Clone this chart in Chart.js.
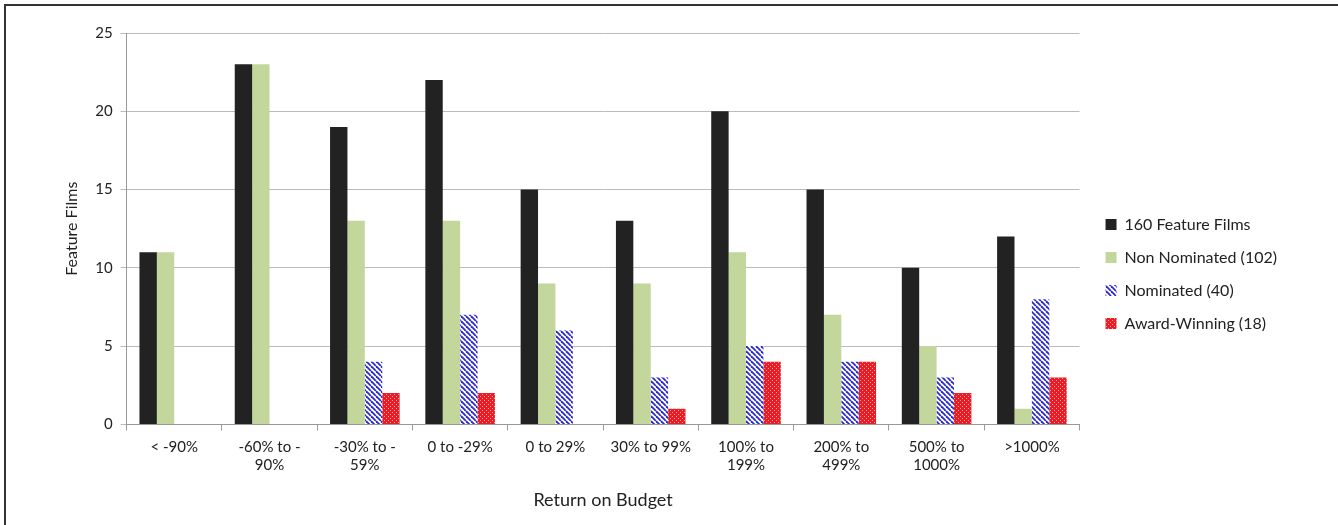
<!DOCTYPE html>
<html>
<head>
<meta charset="utf-8">
<script src="https://cdn.jsdelivr.net/npm/chart.js@4.4.0/dist/chart.umd.min.js"></script>
<style>
  html, body { margin: 0; padding: 0; background: #fff; }
  #wrap {
    position: absolute; left: 4px; top: 4px; width: 1334px; height: 521px;
    border-left: 2px solid #333; border-top: 2px solid #333;
  }
</style>
</head>
<body>
<div id="wrap"><canvas id="chart" width="1332" height="519"></canvas></div>
<script>
// kategori return on budget
const categories = [
  "< -90%", ["-60% to -", "90%"], ["-30% to -", "59%"], "0 to -29%", "0 to 29%",
  "30% to 99%", ["100% to", "199%"], ["200% to", "499%"], ["500% to", "1000%"], ">1000%"
];
const allFilms = [11, 23, 19, 22, 15, 13, 20, 15, 10, 12];
const nonNominated = [11, 23, 13, 13, 9, 9, 11, 7, 5, 1];
const nominated = [0, 0, 4, 7, 6, 3, 5, 4, 3, 8];
const awardWinning = [0, 0, 2, 2, 0, 1, 4, 4, 2, 3];
const seriesNames = ["160 Feature Films", "Non Nominated (102)", "Nominated (40)", "Award-Winning (18)"];

const ctx = document.getElementById("chart").getContext("2d");

// pola garis miring biru
function hatchPattern() {
  const c = document.createElement("canvas");
  c.width = 5; c.height = 5;
  const g = c.getContext("2d");
  g.fillStyle = "#fff";
  g.fillRect(0, 0, 5, 5);
  g.strokeStyle = "#2b2bd0";
  g.lineWidth = 1.8;
  for (let k = -5; k <= 10; k += 5) {
    g.beginPath();
    g.moveTo(k, 0);
    g.lineTo(k + 5, 5);
    g.stroke();
  }
  return ctx.createPattern(c, "repeat");
}

// pola kotak merah
function checkPattern() {
  const c = document.createElement("canvas");
  c.width = 4; c.height = 4;
  const g = c.getContext("2d");
  g.fillStyle = "#ec1c24";
  g.fillRect(0, 0, 4, 4);
  g.fillStyle = "#f7a0a0";
  g.fillRect(0, 0, 1, 1);
  g.fillRect(2, 2, 1, 1);
  return ctx.createPattern(c, "repeat");
}

// lebarkan kotak legenda supaya area plot lebih sempit
const legendGap = {
  id: "legendGap",
  beforeInit(chart) {
    const fit = chart.legend.fit;
    chart.legend.fit = function () {
      fit.call(this);
      this.width += 12;
    };
  },
  afterLayout(chart) {
    chart.legend.left += 9;
  },
};

const font = "Lato, 'Open Sans', sans-serif";

new Chart(ctx, {
  type: "bar",
  data: {
    labels: categories,
    datasets: [
      { label: seriesNames[0], data: allFilms, backgroundColor: "#222222" },
      { label: seriesNames[1], data: nonNominated, backgroundColor: "#c3d69b" },
      { label: seriesNames[2], data: nominated, backgroundColor: hatchPattern() },
      { label: seriesNames[3], data: awardWinning, backgroundColor: checkPattern() },
    ],
  },
  plugins: [legendGap],
  options: {
    responsive: false,
    animation: false,
    devicePixelRatio: 1,
    layout: { padding: { left: 52, top: 27, right: 48, bottom: 10 } },
    datasets: { bar: { barPercentage: 1, categoryPercentage: 0.73 } },
    plugins: {
      tooltip: { enabled: false },
      legend: {
        position: "right",
        labels: {
          boxWidth: 11, boxHeight: 11, padding: 17,
          color: "#222", font: { family: font, size: 16 },
        },
      },
    },
    scales: {
      x: {
        grid: { drawOnChartArea: false, offset: true, tickLength: 6, color: "#999" },
        border: { color: "#999" },
        ticks: { color: "#222", font: { family: font, size: 15 }, maxRotation: 0, padding: 8 },
        title: { display: true, text: "Return on Budget", color: "#222", font: { family: font, size: 18 }, padding: { top: 7 } },
      },
      y: {
        min: 0, max: 25,
        ticks: { stepSize: 5, color: "#222", font: { family: font, size: 15 }, padding: 8 },
        grid: { color: "#bbb", tickLength: 6 },
        border: { color: "#999" },
        title: { display: true, text: "Feature Films", color: "#222", font: { family: font, size: 16 }, padding: { bottom: 6 } },
      },
    },
  },
});
</script>
</body>
</html>
